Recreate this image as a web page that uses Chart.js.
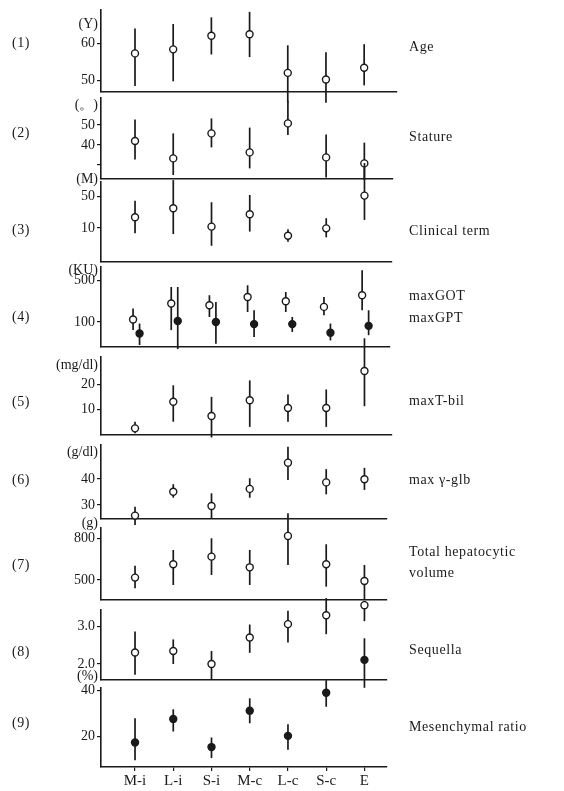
<!DOCTYPE html>
<html>
<head>
<meta charset="utf-8">
<script src="https://cdn.jsdelivr.net/npm/chart.js@4.4.0/dist/chart.umd.min.js"></script>
<style>
  body { margin: 0; background: #fff; width: 564px; height: 791px; position: relative; overflow: hidden;
         font-family: "Liberation Serif", "DejaVu Serif", serif; color: #1a1a1a; }
  canvas { position: absolute; left: 0; }
  .txt { position: absolute; font-size: 14px; line-height: 16px; white-space: nowrap; letter-spacing: 0.6px; transform: translateY(-50%); }
  .unit { text-align: right; right: 466px; letter-spacing: 0; }
</style>
</head>
<body>
<script>
const categories = ['M-i', 'L-i', 'S-i', 'M-c', 'L-c', 'S-c', 'E'];

// (1) Age, years
const ageMean = [57.3, 58.4, 62.1, 62.5, 52.0, 50.2, 53.4];
const ageLow  = [48.4, 49.7, 57.0, 56.3, 44.0, 43.9, 48.6];
const ageHigh = [64.1, 65.3, 67.1, 68.6, 59.5, 57.6, 59.8];

// (2) Stature
const statMean = [42.0, 33.3, 45.8, 36.3, 50.8, 33.8, 30.8];
const statLow  = [32.8, 25.0, 38.8, 28.3, 45.0, 23.8, 22.5];
const statHigh = [52.8, 45.8, 53.3, 48.7, 62.0, 45.3, 41.2];

// (3) Clinical term, months (log axis)
const termMean = [17.3, 27.6, 10.7, 20.2, 6.7, 9.8, 52.7];
const termLow  = [7.6, 7.3, 4.0, 8.3, 4.9, 6.2, 15.1];
const termHigh = [40.6, 117, 37.5, 54.5, 9.3, 16.5, 280];

// (4) max GOT (open) / max GPT (filled), KU (log axis)
const gotMean = [110, 204, 191, 263, 222, 179, 281];
const gotLow  = [73, 73, 121, 147, 147, 130, 157];
const gotHigh = [168, 386, 281, 413, 318, 263, 736];
const gptMean = [64, 104, 100, 92, 92, 66, 86];
const gptLow  = [41, 35, 43, 56, 68, 49, 60];
const gptHigh = [94, 386, 217, 157, 121, 94, 157];

// (5) max T-bil, mg/dl
const bilMean = [2.2, 13.0, 7.2, 13.6, 10.5, 10.5, 25.5];
const bilLow  = [0.2, 4.9, -1.5, 2.8, 4.9, 2.8, 11.2];
const bilHigh = [4.9, 19.7, 15.0, 21.7, 16.0, 18.0, 38.8];

// (6) max gamma-globulin, g/dl
const glbMean = [25.9, 35.1, 29.6, 36.2, 46.3, 38.7, 39.9];
const glbLow  = [22.3, 32.8, 24.6, 32.8, 39.6, 34.1, 35.8];
const glbHigh = [29.3, 38.0, 34.5, 40.3, 52.4, 43.8, 44.3];

// (7) total hepatocytic volume, g
const volMean = [517, 613, 668, 591, 817, 613, 493];
const volLow  = [440, 464, 536, 464, 608, 452, 360];
const volHigh = [603, 716, 800, 716, 980, 757, 608];

// (8) sequella (open) and the single filled E value
const seqMean = [2.31, 2.35, 2.00, 2.71, 3.07, 3.31, 3.58];
const seqLow  = [1.71, 2.00, 1.57, 2.30, 2.58, 2.80, 3.15];
const seqHigh = [2.87, 2.66, 2.35, 3.06, 3.43, 3.77, 3.70];
const seqEMean = [null, null, null, null, null, null, 2.11];
const seqELow  = [null, null, null, null, null, null, 1.36];
const seqEHigh = [null, null, null, null, null, null, 2.69];

// (9) mesenchymal ratio, %
const mesMean = [17.4, 27.7, 15.4, 31.3, 20.3, 39.1, null];
const mesLow  = [9.6, 22.2, 10.6, 25.8, 14.2, 33.0, null];
const mesHigh = [28.0, 31.9, 19.6, 36.7, 25.4, 44.6, null];

const INK = '#1a1a1a';
const FONT = '"Liberation Serif", "DejaVu Serif", serif';

const open = (mean, low, high, shift = 0) => ({ mean, low, high, shift, filled: false });
const solid = (mean, low, high, shift = 0) => ({ mean, low, high, shift, filled: true });

// top/bottom: y of the axis top and baseline on the page
const panels = [
  { top: 10, bottom: 92, xMax: 6.86, type: 'linear', min: 46.8, max: 69.1,
    ticks: [50, 60], shown: [50, 60], series: [open(ageMean, ageLow, ageHigh)] },
  { top: 98, bottom: 179, xMax: 6.75, type: 'linear', min: 23, max: 63.5,
    ticks: [30, 40, 50], shown: [40, 50], series: [open(statMean, statLow, statHigh)] },
  { top: 182, bottom: 262, xMax: 6.72, type: 'logarithmic', min: 1.74, max: 106,
    ticks: [10, 50], shown: [10, 50], series: [open(termMean, termLow, termHigh)] },
  { top: 267, bottom: 347, xMax: 6.68, type: 'logarithmic', min: 38, max: 836,
    ticks: [100, 500], shown: [100, 500],
    series: [open(gotMean, gotLow, gotHigh, -0.05), solid(gptMean, gptLow, gptHigh, 0.12)] },
  { top: 357, bottom: 435, xMax: 6.72, type: 'linear', min: -0.5, max: 31.2,
    ticks: [10, 20], shown: [10, 20], series: [open(bilMean, bilLow, bilHigh)] },
  { top: 445, bottom: 519, xMax: 6.59, type: 'linear', min: 24.6, max: 53.1,
    ticks: [30, 40], shown: [30, 40], series: [open(glbMean, glbLow, glbHigh)] },
  { top: 528, bottom: 600, xMax: 6.59, type: 'linear', min: 356, max: 874,
    ticks: [500, 800], shown: [500, 800], series: [open(volMean, volLow, volHigh)] },
  { top: 610, bottom: 680, xMax: 6.59, type: 'linear', min: 1.57, max: 3.45,
    ticks: [2, 3], shown: [2, 3], fixed: 1,
    series: [open(seqMean, seqLow, seqHigh), solid(seqEMean, seqELow, seqEHigh)] },
  { top: 688, bottom: 767, xMax: 6.59, type: 'linear', min: 6.7, max: 41.2,
    ticks: [20, 40], shown: [20, 40], series: [solid(mesMean, mesLow, mesHigh)] }
];

// vertical mean ± SD bars, drawn under the markers
const errorBars = {
  id: 'errorBars',
  beforeDatasetsDraw(chart) {
    const { ctx, scales: { x, y } } = chart;
    ctx.save();
    ctx.strokeStyle = INK;
    ctx.lineWidth = 1.7;
    chart.data.datasets.forEach(ds => ds.data.forEach(p => {
      const px = x.getPixelForValue(p.x);
      ctx.beginPath();
      ctx.moveTo(px, y.getPixelForValue(p.lo));
      ctx.lineTo(px, y.getPixelForValue(p.hi));
      ctx.stroke();
    }));
    ctx.restore();
  }
};

function makePanel(p, last) {
  const padTop = 30, padBottom = last ? 24 : 14;
  const cv = document.createElement('canvas');
  cv.width = 564;
  cv.height = p.bottom - p.top + padTop + padBottom;
  cv.style.top = (p.top - padTop) + 'px';
  document.body.appendChild(cv);

  const datasets = p.series.map(s => ({
    data: s.mean.map((m, i) => m == null ? null : { x: i + s.shift, y: m, lo: s.low[i], hi: s.high[i] }).filter(Boolean),
    pointRadius: 3.5,
    pointBorderWidth: 1.4,
    pointBorderColor: INK,
    pointBackgroundColor: s.filled ? INK : '#fff',
    showLine: false,
    clip: false
  }));

  new Chart(cv, {
    type: 'scatter',
    data: { datasets },
    plugins: [errorBars],
    options: {
      responsive: false,
      animation: false,
      events: [],
      layout: { padding: { left: 0, right: 564 - 101 - Math.round((p.xMax + 0.89) * 38.2), top: padTop, bottom: last ? 0 : padBottom } },
      plugins: { legend: { display: false }, tooltip: { enabled: false } },
      scales: {
        x: {
          type: 'linear', min: -0.89, max: p.xMax,
          afterBuildTicks: s => { s.ticks = categories.map((c, i) => ({ value: i })); },
          afterFit: s => { s.height = last ? 24 : 0; },
          grid: { display: last, drawOnChartArea: false, tickLength: 4, color: INK, lineWidth: 1.2 },
          border: { display: true, color: INK, width: 1.6 },
          ticks: { display: last, padding: 1, color: INK, font: { family: FONT, size: 15 },
                   callback: v => categories[v] }
        },
        y: {
          type: p.type, min: p.min, max: p.max,
          afterBuildTicks: s => { s.ticks = p.ticks.map(v => ({ value: v })); },
          afterFit: s => { s.width = 101; },
          grid: { drawOnChartArea: false, tickLength: 4, color: INK, lineWidth: 1.2 },
          border: { display: true, color: INK, width: 1.6 },
          ticks: { padding: 2, color: INK, font: { family: FONT, size: 14 },
                   callback: v => p.shown.includes(v) ? (p.fixed ? v.toFixed(p.fixed) : String(v)) : '' }
        }
      }
    }
  });
}

panels.forEach((p, i) => makePanel(p, i === panels.length - 1));

// panel numbers, units and row titles
const texts = [
  ['(1)', 12, 43], ['(2)', 12, 133], ['(3)', 12, 230], ['(4)', 12, 317], ['(5)', 12, 402],
  ['(6)', 12, 480], ['(7)', 12, 565], ['(8)', 12, 652], ['(9)', 12, 723],
  ['Age', 409, 47], ['Stature', 409, 137], ['Clinical term', 409, 231],
  ['maxGOT', 409, 296], ['maxGPT', 409, 318], ['maxT-bil', 409, 401], ['max γ-glb', 409, 480],
  ['Total hepatocytic', 409, 552], ['volume', 409, 573], ['Sequella', 409, 650],
  ['Mesenchymal ratio', 409, 727]
];
texts.forEach(([t, x, y]) => {
  const d = document.createElement('div');
  d.className = 'txt';
  d.textContent = t;
  d.style.left = x + 'px';
  d.style.top = y + 'px';
  document.body.appendChild(d);
});

const units = [['(Y)', 24], ['(。)', 105], ['(M)', 179], ['(KU)', 270], ['(mg/dl)', 365],
               ['(g/dl)', 452], ['(g)', 523], ['(%)', 676]];
units.forEach(([t, y]) => {
  const d = document.createElement('div');
  d.className = 'txt unit';
  d.textContent = t;
  d.style.top = y + 'px';
  document.body.appendChild(d);
});
</script>
</body>
</html>
